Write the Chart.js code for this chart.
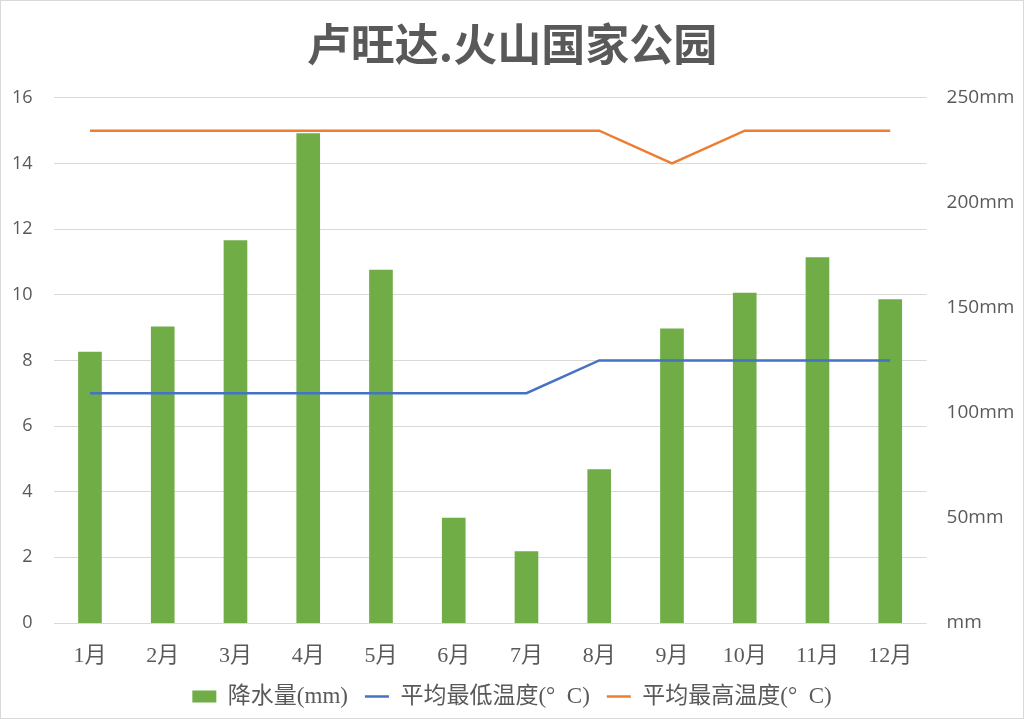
<!DOCTYPE html>
<html><head><meta charset="utf-8">
<script src="https://cdn.jsdelivr.net/npm/chart.js@4"></script>
<style>
html,body{margin:0;padding:0;background:#fff;}
#wrap{width:1024px;height:719px;box-sizing:border-box;border:1px solid #d9d9d9;position:relative;}
</style></head>
<body><div id="wrap"><canvas id="c"></canvas></div>
<script>
const categories = ['1月','2月','3月','4月','5月','6月','7月','8月','9月','10月','11月','12月'];
const rainfall = [129,141,182,233,168,50,34,73,140,157,174,154];
const minTemp = [7,7,7,7,7,7,7,8,8,8,8,8];
const maxTemp = [15,15,15,15,15,15,15,15,14,15,15,15];
const leftTicks = [0,2,4,6,8,10,12,14,16];
const rightTicks = ['mm','50mm','100mm','150mm','200mm','250mm'];

const serif = "'Liberation Serif','Noto Sans CJK SC',serif";
const sans = "'Open Sans','Noto Sans',sans-serif";

new Chart(document.getElementById('c'), {
  data: {
    labels: categories,
    datasets: [
      {type:'bar', label:'降水量(mm)', data: rainfall, yAxisID:'y1', backgroundColor:'#70AD47', barThickness:23, order:3},
      {type:'line', label:'平均最低温度(°C)', data: minTemp, yAxisID:'y', borderColor:'#4472C4', backgroundColor:'#4472C4', borderWidth:2.5, pointRadius:0, tension:0, order:1},
      {type:'line', label:'平均最高温度(°C)', data: maxTemp, yAxisID:'y', borderColor:'#ED7D31', backgroundColor:'#ED7D31', borderWidth:2.5, pointRadius:0, tension:0, order:2}
    ]
  },
  options: {
    responsive:true, maintainAspectRatio:false, animation:false,
    layout:{padding:{top:0,bottom:0,left:0,right:0}},
    plugins:{
      title:{display:true, text:'卢旺达.火山国家公园', color:'#595959',
        font:{family:"'Noto Sans CJK SC',sans-serif", size:44, weight:'bold'}, padding:{top:17,bottom:27}},
      legend:{position:'bottom', labels:{color:'#595959', font:{family:serif,size:23}, usePointStyle:true, pointStyleWidth:24, boxHeight:12, padding:17,
        generateLabels(chart){
          return chart.data.datasets.map((d,i)=>({text: i===0?d.label:d.label.replace('°C','°  C'), fillStyle:d.backgroundColor, strokeStyle:d.backgroundColor,
            lineWidth: i===0?0:2.5, pointStyle: i===0?'rect':'line', hidden:false, datasetIndex:i, fontColor:'#595959'}));
        }}},
      tooltip:{enabled:false}
    },
    scales:{
      x:{grid:{display:false}, border:{display:false}, ticks:{color:'#595959', font:{family:serif,size:22}, padding:12},
        afterFit(a){a.height=45;}},
      y:{position:'left', min:0, max:16, afterBuildTicks(a){a.ticks=leftTicks.map(v=>({value:v}));},
        grid:{color:'#d9d9d9', drawTicks:false}, border:{display:false},
        ticks:{color:'#595959', font:{family:sans,size:18}, padding:21},
        afterFit(a){a.width=52.6;}},
      y1:{position:'right', min:0, max:250, afterBuildTicks(a){a.ticks=rightTicks.map((t,i)=>({value:i*50}));},
        grid:{display:false, drawTicks:false}, border:{display:false},
        ticks:{color:'#595959', font:{family:sans,size:19}, padding:20, callback:(v,i)=>rightTicks[i]},
        afterFit(a){a.width=96.4;}}
    }
  }
});
</script></body></html>
